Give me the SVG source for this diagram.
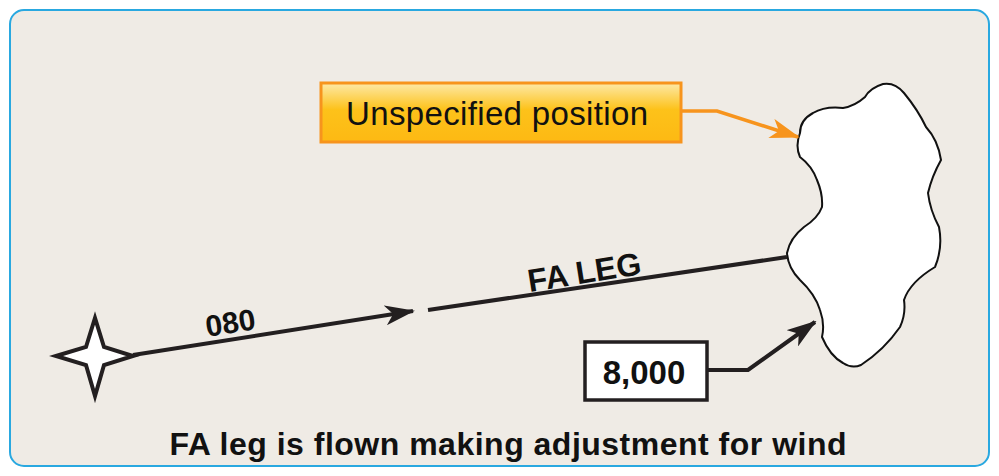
<svg xmlns="http://www.w3.org/2000/svg" width="999" height="476" viewBox="0 0 999 476">
<defs>
<linearGradient id="og" x1="0" y1="0" x2="0" y2="1"><stop offset="0" stop-color="#fde9a8"/><stop offset="0.45" stop-color="#fdc21a"/><stop offset="1" stop-color="#fdb913"/></linearGradient>
<marker id="ab" viewBox="0 0 30 20" refX="28" refY="10" markerWidth="30" markerHeight="20" markerUnits="userSpaceOnUse" orient="auto"><path d="M0,0 L30,10 L0,20 L8,10 Z" fill="#231f20"/></marker>
<marker id="ao" viewBox="0 0 30 20" refX="28" refY="10" markerWidth="30" markerHeight="20" markerUnits="userSpaceOnUse" orient="auto"><path d="M0,0 L30,10 L0,20 L8,10 Z" fill="#f7941d"/></marker>
</defs>
<style>
.b{font-family:"Liberation Sans",Arial,sans-serif;font-weight:bold;fill:#111}
.ln{stroke:#231f20;stroke-width:4;fill:none}
</style>
<rect x="10" y="10" width="979" height="456" rx="14" fill="#efebe5" stroke="#29a8e0" stroke-width="2"/>
<g id="cloud"><path d="M883,84 Q870,88 865,97 Q855,106 843,108 Q825,106 813,113 Q800,120 800,133 Q795,146 800,157 Q812,166 817,180 Q823,194 822,207 Q818,218 804,227 Q790,238 787,253 Q788,268 800,280 Q815,294 820,310 Q825,324 822,337 Q830,356 843,363 Q852,369 861,365 Q884,350 900,327 Q906,314 904,300 Q910,282 935,267 Q943,248 939,227 Q930,210 928,193 Q932,176 941,160 Q938,140 926,127 Q918,110 904,93 Q895,82 883,84 Z" fill="#fff" stroke="#111" stroke-width="2"/></g>
<g id="star"><path d="M56,356 L86,347 L95,318 L104,347 L133,356 L104,365 L95,396 L86,365 Z" fill="#fff" stroke="#231f20" stroke-width="4" stroke-linejoin="miter"/></g>
<g id="connectors">
<line class="ln" x1="133" y1="355" x2="413" y2="311" marker-end="url(#ab)"/>
<line class="ln" x1="428" y1="310" x2="787" y2="257"/>
<polyline points="682,111 717,111 798,137" fill="none" stroke="#f7941d" stroke-width="3.5" marker-end="url(#ao)"/>
<polyline class="ln" points="708,370 748,370 815,322" marker-end="url(#ab)"/>
</g>
<g id="labels">
<text class="b" font-size="30" transform="translate(232,333) rotate(-9)" text-anchor="middle">080</text>
<text class="b" font-size="32" transform="translate(586,283) rotate(-9)" text-anchor="middle">FA LEG</text>
</g>
<g id="unspecified"><rect x="321" y="83" width="360" height="59" fill="url(#og)" stroke="#f7941d" stroke-width="3"/>
<text x="497" y="125" font-family="Liberation Sans,Arial,sans-serif" font-size="33" text-anchor="middle" fill="#111" textLength="302">Unspecified position</text></g>
<g id="alt"><rect x="585" y="342" width="122" height="58" fill="#fff" stroke="#231f20" stroke-width="3.5"/>
<text class="b" x="644" y="384" font-size="33" text-anchor="middle">8,000</text></g>
<text class="b" x="508" y="455" font-size="32" text-anchor="middle" textLength="677">FA leg is flown making adjustment for wind</text>
</svg>
